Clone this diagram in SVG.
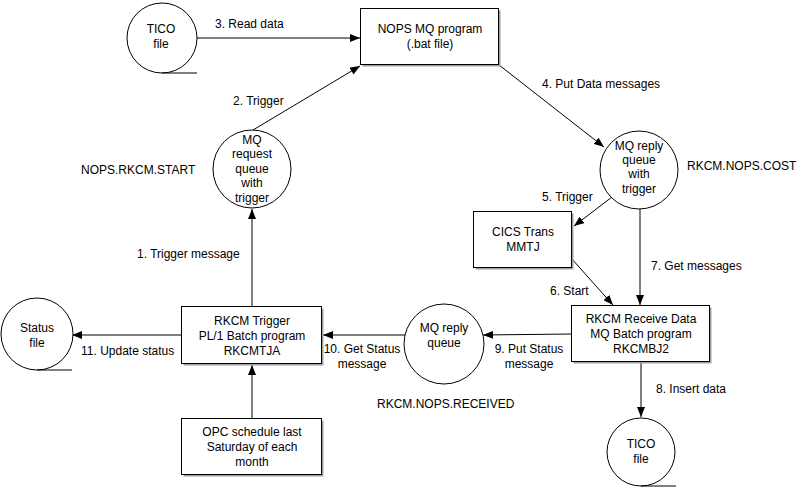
<svg xmlns="http://www.w3.org/2000/svg" width="812" height="490" viewBox="0 0 812 490">
<defs>
<style>
text{font-family:"Liberation Sans",Arial,sans-serif;font-size:12px;fill:#000}
.c{text-anchor:middle}
.n{fill:#fff;stroke:#000;stroke-width:1}
.sh{fill:#a0a0a0;stroke:none}
.e{fill:none;stroke:#000;stroke-width:1}
.l{fill:none;stroke:#000;stroke-width:1}
</style>
<marker id="a" viewBox="0 0 10 8" refX="10" refY="4" markerWidth="10" markerHeight="8" markerUnits="userSpaceOnUse" orient="auto">
<path d="M0,0 L10,4 L0,8 Z" fill="#000"/>
</marker>
</defs>
<rect width="812" height="490" fill="#fff"/>
<g id="connectors">
<line class="e" x1="197" y1="38" x2="360" y2="38" marker-end="url(#a)"/>
<line class="e" x1="253" y1="130" x2="360" y2="66" marker-end="url(#a)"/>
<line class="e" x1="499" y1="65" x2="604" y2="147" marker-end="url(#a)"/>
<line class="e" x1="612" y1="197" x2="574" y2="226" marker-end="url(#a)"/>
<line class="e" x1="640" y1="209" x2="640" y2="305" marker-end="url(#a)"/>
<line class="e" x1="571" y1="258" x2="613" y2="305" marker-end="url(#a)"/>
<line class="e" x1="641" y1="362" x2="641" y2="417" marker-end="url(#a)"/>
<line class="e" x1="572" y1="334" x2="483" y2="335" marker-end="url(#a)"/>
<line class="e" x1="405" y1="335" x2="323" y2="335" marker-end="url(#a)"/>
<line class="e" x1="182" y1="335" x2="72" y2="335" marker-end="url(#a)"/>
<line class="e" x1="252" y1="307" x2="252" y2="209" marker-end="url(#a)"/>
<line class="e" x1="252" y1="419" x2="252" y2="365" marker-end="url(#a)"/>
<text x="215" y="28">3. Read data</text>
<text x="233" y="105">2. Trigger</text>
<text x="542" y="88">4. Put Data messages</text>
<text x="542" y="201">5. Trigger</text>
<text x="651" y="270">7. Get messages</text>
<text x="550" y="295">6. Start</text>
<text x="656" y="393">8. Insert data</text>
<text x="529" y="353" class="c">9. Put Status</text>
<text x="529" y="368" class="c">message</text>
<text x="362" y="353" class="c">10. Get Status</text>
<text x="362" y="368" class="c">message</text>
<text x="81" y="355">11. Update status</text>
<text x="137" y="258">1. Trigger message</text>
</g>
<g id="tico-top">
<circle class="n" cx="162" cy="38" r="35"/>
<line class="l" x1="162" y1="73" x2="197" y2="73"/>
<text x="161" y="33" class="c">TICO</text>
<text x="161" y="48" class="c">file</text>
</g>
<g id="nops-program">
<rect class="sh" x="362.5" y="10.5" width="138" height="56"/>
<rect class="n" x="360.5" y="8.5" width="138" height="56"/>
<text x="430" y="33" class="c">NOPS MQ program</text>
<text x="430" y="48" class="c">(.bat file)</text>
</g>
<g id="mq-request">
<circle class="n" cx="252" cy="169" r="39"/>
<text x="252" y="144" class="c">MQ</text>
<text x="252" y="158" class="c">request</text>
<text x="252" y="173" class="c">queue</text>
<text x="252" y="187" class="c">with</text>
<text x="252" y="202" class="c">trigger</text>
<text x="81" y="174">NOPS.RKCM.START</text>
</g>
<g id="mq-reply-trigger">
<circle class="n" cx="639" cy="170" r="39"/>
<text x="639" y="150" class="c">MQ reply</text>
<text x="639" y="164" class="c">queue</text>
<text x="639" y="178" class="c">with</text>
<text x="639" y="193" class="c">trigger</text>
<text x="687" y="170">RKCM.NOPS.COST</text>
</g>
<g id="cics">
<rect class="sh" x="475.5" y="213.5" width="98" height="56"/>
<rect class="n" x="473.5" y="211.5" width="98" height="56"/>
<text x="523" y="236" class="c">CICS Trans</text>
<text x="523" y="251" class="c">MMTJ</text>
</g>
<g id="rkcm-receive">
<rect class="sh" x="573.5" y="307.5" width="138" height="56"/>
<rect class="n" x="571.5" y="305.5" width="138" height="56"/>
<text x="641" y="323" class="c">RKCM Receive Data</text>
<text x="641" y="338" class="c">MQ Batch program</text>
<text x="641" y="353" class="c">RKCMBJ2</text>
</g>
<g id="tico-bottom">
<circle class="n" cx="641" cy="452" r="34"/>
<line class="l" x1="641" y1="486" x2="676" y2="486"/>
<text x="641" y="448" class="c">TICO</text>
<text x="641" y="463" class="c">file</text>
</g>
<g id="mq-reply">
<circle class="n" cx="444" cy="344" r="40"/>
<text x="444" y="332" class="c">MQ reply</text>
<text x="444" y="347" class="c">queue</text>
<text x="377" y="408">RKCM.NOPS.RECEIVED</text>
</g>
<g id="rkcm-trigger">
<rect class="sh" x="183.5" y="308.5" width="140" height="57"/>
<rect class="n" x="181.5" y="306.5" width="140" height="57"/>
<text x="252" y="325" class="c">RKCM Trigger</text>
<text x="252" y="340" class="c">PL/1 Batch program</text>
<text x="252" y="355" class="c">RKCMTJA</text>
</g>
<g id="status-file">
<circle class="n" cx="37" cy="334" r="36"/>
<line class="l" x1="37" y1="370" x2="72" y2="370"/>
<text x="37" y="332" class="c">Status</text>
<text x="37" y="347" class="c">file</text>
</g>
<g id="opc">
<rect class="sh" x="183.5" y="420.5" width="140" height="56"/>
<rect class="n" x="181.5" y="418.5" width="140" height="56"/>
<text x="252" y="436" class="c">OPC schedule last</text>
<text x="252" y="451" class="c">Saturday of each</text>
<text x="252" y="466" class="c">month</text>
</g>
</svg>
